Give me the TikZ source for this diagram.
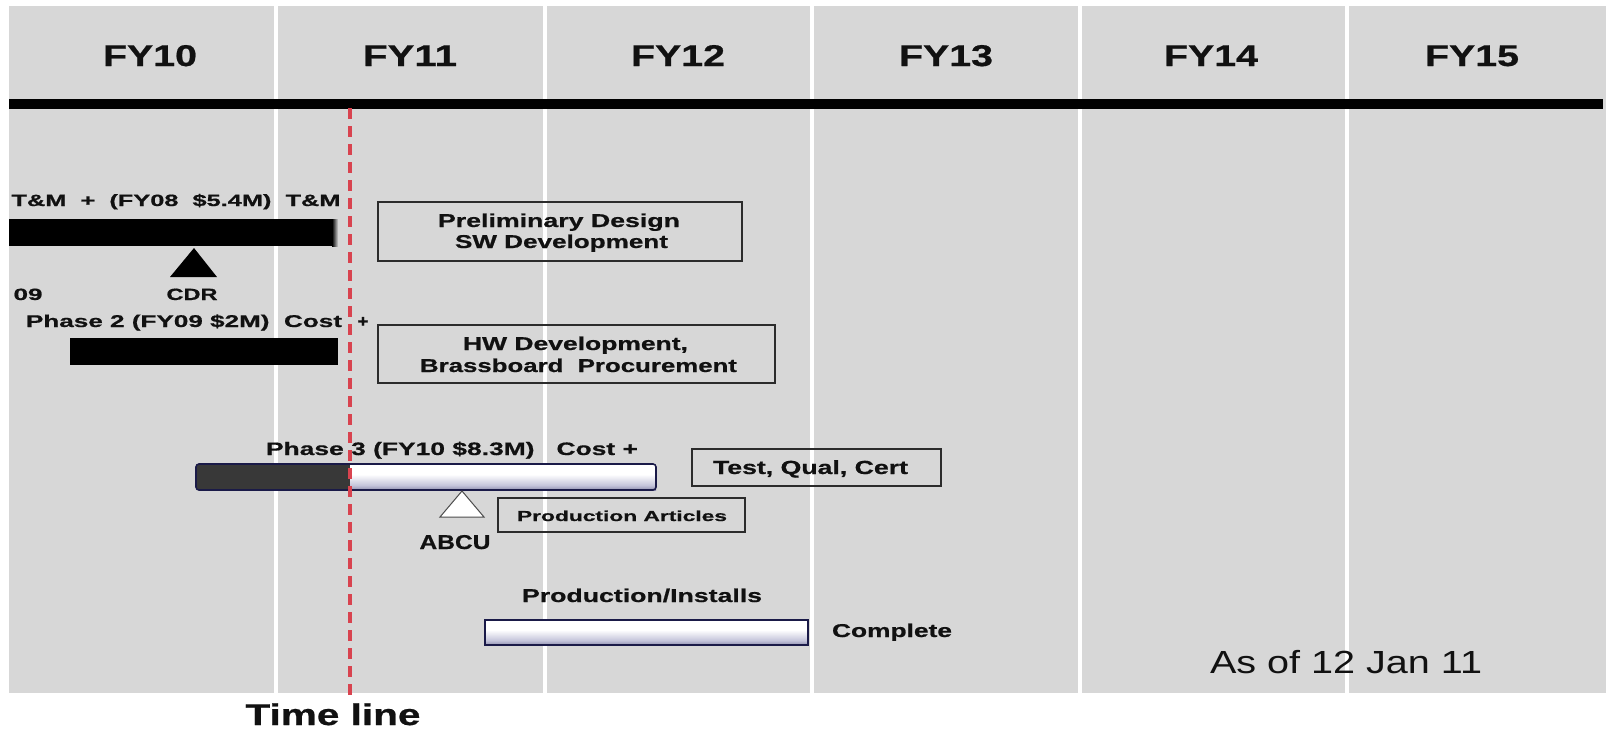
\documentclass[tikz,border=0pt]{standalone}
\usepackage{fontspec}
\setmainfont{Liberation Sans}[BoldFeatures={FakeBold=0.6}]
\usepackage{graphicx}

% palette
\definecolor{panel}{HTML}{D7D7D7}
\definecolor{edge}{HTML}{2B2B2B}
\definecolor{navy}{HTML}{1A1A48}
\definecolor{lavmid}{HTML}{4E4E7A}
\definecolor{lavlight}{HTML}{C4C4DA}
\definecolor{lavlow}{HTML}{8282A6}
\definecolor{dashred}{HTML}{D8434F}
\definecolor{darkbar}{HTML}{383838}
\definecolor{ink}{HTML}{111111}

% glossy bar fill: dark rims, bright upper band
\pgfdeclareverticalshading{barshade}{100bp}{%
  color(0bp)=(navy); color(14bp)=(lavmid); color(34bp)=(lavlight);
  color(55bp)=(white); color(76bp)=(white); color(89bp)=(lavlow);
  color(100bp)=(navy)}

% text set at a given size and stretched to a given width
\newcommand{\fitbox}[3]{\resizebox{#1pt}{\height}{\fontsize{#2pt}{#2pt}\selectfont #3}}

\begin{document}
\begin{tikzpicture}[x=1pt,y=-1pt,
  lbl/.style={inner sep=0pt, anchor=base, font=\bfseries, text=ink},
  framebox/.style={draw=edge, line width=1.6pt, inner sep=0pt},
  colsep/.style={white, line width=4pt},
  ruler/.style={black, line width=10pt},
  nowline/.style={dashred, line width=3.5pt, dash pattern=on 11pt off 7pt},
  solidbar/.style={fill=black},
  glossbar/.style={shading=barshade},
  bartrim/.style={draw=navy, line width=1.6pt},
]
\useasboundingbox (0,0) rectangle (1614,729);
\fill[white] (0,0) rectangle (1614,729);
\fill[panel] (9,6) rectangle (1606,693);

% fiscal-year columns
\foreach \x in {276,545,812,1080,1347} \draw[colsep] (\x,6) -- (\x,693);

\node[lbl] (fy10) at (150,66)  {\fitbox{94}{30}{FY10}};
\node[lbl] (fy11) at (410,66)  {\fitbox{94}{30}{FY11}};
\node[lbl] (fy12) at (678,66)  {\fitbox{94}{30}{FY12}};
\node[lbl] (fy13) at (946,66)  {\fitbox{94}{30}{FY13}};
\node[lbl] (fy14) at (1211,66) {\fitbox{94}{30}{FY14}};
\node[lbl] (fy15) at (1472,66) {\fitbox{94}{30}{FY15}};

\coordinate (rulerL) at (9,104);
\coordinate (rulerR) at (1603,104);
\draw[ruler] (rulerL) -- (rulerR);

% phase 1
\node[lbl] (p1lbl) at (176,206) {\fitbox{329}{16.3}{T\&M\ \ +\ \ (FY08\ \ \$5.4M)\ \ T\&M}};
\fill[solidbar] (9,219) rectangle (334,246);
\shade[left color=black, right color=gray!35] (332,219) rectangle (338,246);
\fill[black] (170,277) -- (194,248) -- (217,277) -- cycle;
\node[lbl] (cdr) at (192,300) {\fitbox{51}{16.3}{CDR}};
\node[lbl] (yr09) at (28,300) {\fitbox{29}{16.3}{09}};

% phase 2
\node[lbl] (p2lbl) at (184,327) {\fitbox{316}{17}{Phase 2 (FY09 \$2M)\ \ Cost}};
\node[lbl] (p2plus) at (363,327) {\fitbox{11}{17}{+}};
\fill[solidbar] (70,338) rectangle (338,365);

% activity boxes
\node[framebox, minimum width=364pt, minimum height=59pt] (prelim) at (560,231.5) {};
\node[lbl] (prelimA) at (559,227) {\fitbox{242}{18.6}{Preliminary Design}};
\node[lbl] (prelimB) at (561.5,248) {\fitbox{213}{18.6}{SW Development}};

\node[framebox, minimum width=397pt, minimum height=58pt] (hwdev) at (576.5,354) {};
\node[lbl] (hwdevA) at (575.5,350) {\fitbox{225}{18.6}{HW Development,}};
\node[lbl] (hwdevB) at (578.5,372) {\fitbox{317}{18.6}{Brassboard\ \ Procurement}};

% phase 3
\node[lbl] (p3lbl) at (452,455) {\fitbox{372}{18}{Phase 3 (FY10 \$8.3M)\ \ \ Cost +}};
\fill[darkbar, rounded corners=3pt] (196,464) rectangle (354,490);
\shade[glossbar] (350,464) rectangle (656,490);
\draw[bartrim, rounded corners=3pt] (196,464) rectangle (656,490);

\node[framebox, minimum width=249pt, minimum height=37pt] (tqc) at (816.5,467.5) {};
\node[lbl] (tqcA) at (810.5,474) {\fitbox{195}{19}{Test, Qual, Cert}};

\filldraw[fill=white, draw=gray!60!black, line width=1pt] (440,517) -- (462,491) -- (484,517) -- cycle;
\node[lbl] (abcu) at (455,549) {\fitbox{71}{20}{ABCU}};

\node[framebox, minimum width=247pt, minimum height=34pt] (prodart) at (621.5,515) {};
\node[lbl] (prodartA) at (622,521) {\fitbox{210}{14.5}{Production Articles}};

% production
\node[lbl] (prodlbl) at (642,602) {\fitbox{240}{18.6}{Production/Installs}};
\shade[glossbar] (485,620) rectangle (808,645);
\draw[bartrim] (485,620) rectangle (808,645);
\node[lbl] (complete) at (892,637) {\fitbox{120}{18.6}{Complete}};

% status date
\node[lbl, font=\mdseries] (asof) at (1346,673) {\fitbox{272}{32}{As of 12 Jan 11}};

% current-date marker
\coordinate (nowTop) at (350,108);
\coordinate (nowBot) at (350,697);
\draw[nowline] (nowTop) -- (nowBot);
\node[lbl] (timeline) at (333,725) {\fitbox{175}{30}{Time line}};
\end{tikzpicture}
\end{document}
